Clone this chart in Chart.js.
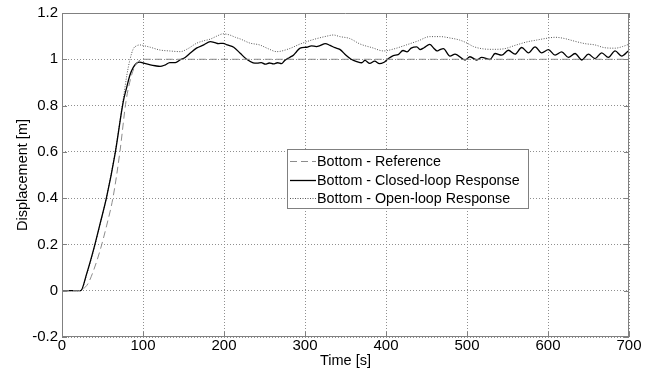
<!DOCTYPE html>
<html>
<head>
<meta charset="utf-8">
<script src="https://cdn.jsdelivr.net/npm/chart.js@4.4.1/dist/chart.umd.min.js"></script>
<style>
  html, body { margin: 0; padding: 0; background: #fff; }
  canvas { display: block; }
</style>
</head>
<body>
<canvas id="chart" width="659" height="374"></canvas>
<script>
const FONT = '"Liberation Sans", Arial, sans-serif';

// series names, as in the legend
const seriesLabels = [
  'Bottom - Reference',
  'Bottom - Closed-loop Response',
  'Bottom - Open-loop Response'
];

// reference trajectory
const referenceTime   = [0, 20, 26, 32, 39, 47, 55, 63, 71.6, 79, 85, 90, 95, 100, 700];
const referenceValues = [0, 0, 0.008, 0.03, 0.088, 0.174, 0.28, 0.403, 0.603, 0.818, 0.92, 0.97, 0.993, 1, 1];

// closed-loop response
const closedTime = [
  0, 23, 30.5, 38.7, 46.9, 55, 65.4, 75.7, 80, 84, 88, 92, 96, 102, 109, 115, 121, 127, 133, 140,
  146, 152, 158, 166, 175, 183, 189, 193, 199, 204, 212, 220, 228, 236, 241, 246, 251, 256, 261, 266,
  271, 275, 281, 286, 290, 294, 302, 308, 314, 319, 325, 331, 337, 343, 351, 357, 364, 370, 374, 380,
  386, 392, 397, 402, 409, 415, 421, 426, 431, 438, 442, 447, 454, 459, 463, 466.7, 470.8, 479, 485.2, 497.6,
  503.7, 512, 518.1, 528.4, 534.6, 542.8, 551.1, 559.3, 567.5, 575.8, 584, 592.2, 600.5, 608.7, 616.9, 625.2,
  633.4, 641.6, 649.8, 658.1, 666.3, 674.5, 682.8, 691, 699.2, 700
];
const closedValues = [
  0, 0, 0.074, 0.174, 0.288, 0.403, 0.589, 0.818, 0.88, 0.933, 0.965, 0.983, 0.988, 0.982, 0.976, 0.972, 0.969, 0.975, 0.986, 0.986,
  0.998, 1.008, 1.026, 1.048, 1.062, 1.076, 1.072, 1.068, 1.069, 1.062, 1.052, 1.026, 1.0, 0.985, 0.983, 0.986, 0.979, 0.984, 0.98, 0.985,
  0.981, 0.995, 1.008, 1.019, 1.035, 1.048, 1.052, 1.058, 1.055, 1.06, 1.068, 1.06, 1.05, 1.043, 1.016, 1.0, 0.99, 0.985, 0.995, 0.982,
  0.992, 0.981, 0.986, 1.0, 1.016, 1.02, 1.038, 1.032, 1.048, 1.054, 1.042, 1.05, 1.064, 1.048, 1.036, 1.042, 1.046, 1.014, 1.022, 0.997,
  1.011, 0.997, 1.008, 0.999, 1.025, 1.018, 1.039, 1.022, 1.051, 1.028, 1.054, 1.028, 1.042, 1.018, 1.032, 1.008,
  1.025, 0.997, 1.022, 1.003, 1.028, 1.008, 1.036, 1.014, 1.036, 1.038
];

// open-loop response
const openTime = [
  0, 23, 30.5, 38.7, 46.9, 55, 65.4, 75.7, 80, 84, 88, 92, 96, 102, 109, 121, 133, 146, 155, 166,
  175, 183, 191, 199, 207, 214, 220, 232, 244, 255, 265, 280, 294, 310, 327, 335, 343, 355, 368, 383,
  397, 410, 425, 440, 454, 467, 479, 491, 500, 508, 520, 532, 545, 561, 575, 586, 597, 609, 620, 633,
  645, 658, 670, 683, 692, 700
];
const openValues = [
  0, 0, 0.07, 0.17, 0.285, 0.405, 0.595, 0.83, 0.93, 1.0, 1.045, 1.058, 1.062, 1.058, 1.052, 1.04, 1.036, 1.033, 1.045, 1.069,
  1.08, 1.087, 1.1, 1.11, 1.105, 1.095, 1.088, 1.07, 1.062, 1.045, 1.033, 1.045, 1.066, 1.085, 1.1, 1.105, 1.098, 1.09, 1.066, 1.05,
  1.036, 1.045, 1.062, 1.08, 1.098, 1.098, 1.092, 1.083, 1.07, 1.055, 1.045, 1.043, 1.045, 1.062, 1.076, 1.083, 1.09, 1.095, 1.09, 1.078,
  1.068, 1.062, 1.05, 1.048, 1.055, 1.065
];

const xTicks = [0, 100, 200, 300, 400, 500, 600, 700];
const yTicks = [-0.2, 0, 0.2, 0.4, 0.6, 0.8, 1, 1.2];

const toPoints = (xs, ys) => xs.map((x, i) => ({ x, y: ys[i] }));

// MATLAB-style box: top/right edges plus short inward tick marks
const axesFrame = {
  id: 'axesFrame',
  afterDatasetsDraw(chart) {
    const { ctx, chartArea: a, scales } = chart;
    ctx.save();
    ctx.strokeStyle = '#808080';
    ctx.lineWidth = 1;
    ctx.beginPath();
    ctx.moveTo(a.left, a.top + 0.5); ctx.lineTo(a.right, a.top + 0.5);
    ctx.moveTo(a.right - 0.5, a.top); ctx.lineTo(a.right - 0.5, a.bottom);
    ctx.moveTo(a.left + 0.5, a.top); ctx.lineTo(a.left + 0.5, a.bottom);
    ctx.moveTo(a.left, a.bottom - 0.5); ctx.lineTo(a.right, a.bottom - 0.5);
    yTicks.forEach(v => {
      const y = Math.round(scales.y.getPixelForValue(v)) + 0.5;
      ctx.moveTo(a.left, y); ctx.lineTo(a.left + 5, y);
      ctx.moveTo(a.right - 5, y); ctx.lineTo(a.right, y);
    });
    xTicks.forEach(v => {
      const x = Math.round(scales.x.getPixelForValue(v)) + 0.5;
      ctx.moveTo(x, a.bottom); ctx.lineTo(x, a.bottom - 5);
      ctx.moveTo(x, a.top); ctx.lineTo(x, a.top + 5);
    });
    ctx.stroke();
    ctx.restore();
  }
};

// boxed legend sitting inside the axes
const boxLegend = {
  id: 'boxLegend',
  afterDraw(chart) {
    const { ctx } = chart;
    const x0 = 287, y0 = 149, w = 241, h = 59;
    ctx.save();
    ctx.fillStyle = '#fff';
    ctx.fillRect(x0, y0, w, h);
    ctx.strokeStyle = '#808080';
    ctx.lineWidth = 1;
    ctx.strokeRect(x0 + 0.5, y0 + 0.5, w, h);
    ctx.font = '14.3px ' + FONT;
    ctx.textBaseline = 'middle';
    chart.data.datasets.forEach((ds, i) => {
      const y = Math.round(y0 + 12 + i * 18.7) + 0.5;
      ctx.strokeStyle = ds.borderColor;
      ctx.lineWidth = ds.borderWidth;
      ctx.setLineDash(ds.borderDash || []);
      ctx.beginPath();
      ctx.moveTo(x0 + 3, y);
      ctx.lineTo(x0 + 29, y);
      ctx.stroke();
      ctx.setLineDash([]);
      ctx.fillStyle = '#000';
      ctx.fillText(ds.label, x0 + 30, y + 0.5);
    });
    ctx.restore();
  }
};

new Chart(document.getElementById('chart'), {
  type: 'line',
  data: {
    datasets: [
      {
        label: seriesLabels[0],
        data: toPoints(referenceTime, referenceValues),
        borderColor: '#8c8c8c',
        borderWidth: 1,
        borderDash: [7, 4]
      },
      {
        label: seriesLabels[1],
        data: toPoints(closedTime, closedValues),
        borderColor: '#000',
        borderWidth: 1.3
      },
      {
        label: seriesLabels[2],
        data: toPoints(openTime, openValues),
        borderColor: '#555',
        borderWidth: 1,
        borderDash: [1, 1.5]
      }
    ]
  },
  options: {
    responsive: false,
    animation: false,
    devicePixelRatio: 1,
    layout: { padding: { top: 12, right: 30, left: 0, bottom: 0 } },
    elements: {
      point: { radius: 0 },
      line: { cubicInterpolationMode: 'monotone', fill: false }
    },
    plugins: {
      legend: { display: false },
      tooltip: { enabled: false }
    },
    scales: {
      x: {
        type: 'linear',
        min: 0,
        max: 700,
        afterFit: s => { s.height = 37; },
        afterBuildTicks: s => { s.ticks = xTicks.map(value => ({ value })); },
        ticks: {
          padding: 0,
          color: '#000',
          font: { family: FONT, size: 15 },
          maxRotation: 0,
          callback: v => String(v)
        },
        grid: {
          color: '#8f8f8f',
          lineWidth: 1,
          drawTicks: false
        },
        border: { display: false, dash: [1, 2] },
        title: {
          display: true,
          text: 'Time [s]',
          color: '#000',
          font: { family: FONT, size: 14.5 },
          padding: { top: 0, bottom: 4 }
        }
      },
      y: {
        type: 'linear',
        min: -0.2,
        max: 1.2,
        afterFit: s => { s.width = 62; },
        afterBuildTicks: s => { s.ticks = yTicks.map(value => ({ value })); },
        ticks: {
          padding: 4,
          color: '#000',
          font: { family: FONT, size: 15 },
          callback: v => String(Number(v.toFixed(1)))
        },
        grid: {
          color: '#8f8f8f',
          lineWidth: 1,
          drawTicks: false
        },
        border: { display: false, dash: [1, 2] },
        title: {
          display: true,
          text: 'Displacement [m]',
          color: '#000',
          font: { family: FONT, size: 14.5 },
          padding: { top: 14, bottom: 0 }
        }
      }
    }
  },
  plugins: [axesFrame, boxLegend]
});
</script>
</body>
</html>
